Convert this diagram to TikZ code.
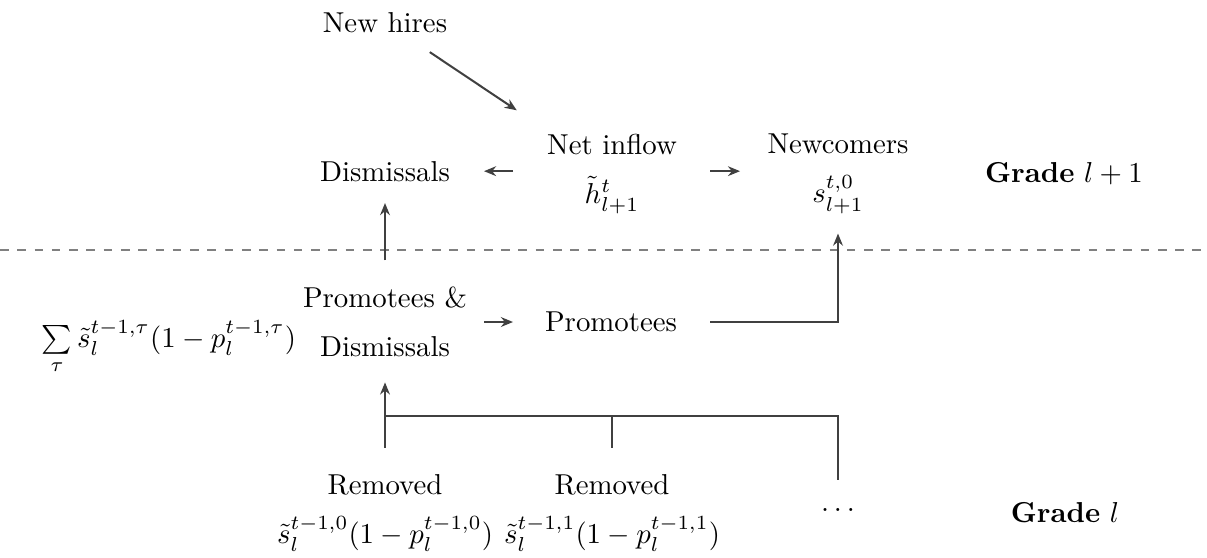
\documentclass[tikz,border=0pt]{standalone}
\usetikzlibrary{arrows.meta}
\tikzset{
  flow/.style={draw=black!75, line width=0.7pt, -{Stealth[length=4.2pt,width=3.4pt]}},
  link/.style={draw=black!75, line width=0.7pt},
  lbl/.style={align=center},
}
\begin{document}
\begin{tikzpicture}[x=0.3472pt, y=-0.3472pt]
\useasboundingbox (0,0) rectangle (1207,557);
\node[anchor=base] (hires) at (385,32) {New hires};
\node[anchor=base] (dism) at (385,181) {Dismissals};
\node[lbl] (inflow) at (612,174) {Net inflow\\[5pt] $\tilde{h}^{t}_{l+1}$};
\node[lbl] (newc) at (838,174) {Newcomers\\[5pt] $s^{t,0}_{l+1}$};
\node[anchor=base] (gradeA) at (1064,182) {\textbf{Grade} $l+1$};
\draw[dashed, gray, line width=0.5pt] (0,250) -- (1207,250);
\node[anchor=base] (sum) at (169,347) {$\sum\limits_{\tau}\tilde{s}^{t-1,\tau}_{l}(1-p^{t-1,\tau}_{l})$};
\node[lbl] (pd) at (385,322) {Promotees \&\\[5pt] Dismissals};
\node (prom) at (611,322) {Promotees};
\node[lbl] (rem0) at (385,513) {Removed\\[5pt] $\tilde{s}^{t-1,0}_{l}(1-p^{t-1,0}_{l})$};
\node[lbl] (rem1) at (612,513) {Removed\\[5pt] $\tilde{s}^{t-1,1}_{l}(1-p^{t-1,1}_{l})$};
\node (more) at (838,510) {$\ldots$};
\node[anchor=base] (gradeB) at (1065,522) {\textbf{Grade} $l$};
\coordinate (bus) at (385,416);
\path
  (hires) edge[flow, shorten <=6pt, shorten >=8.5pt] (inflow)
  (inflow.west |- dism) edge[flow, shorten <=8.3pt, shorten >=8.3pt] (dism.east)
  (inflow.east |- dism) edge[flow, shorten <=8pt, shorten >=6pt] (newc.west |- dism)
  (pd) edge[flow, shorten <=2.4pt, shorten >=7.6pt] (prom)
  (pd) edge[flow, shorten <=5.7pt, shorten >=4pt] (dism)
  (rem0) edge[flow, shorten <=5.6pt, shorten >=5.3pt] (pd);
\draw[flow, shorten <=8pt, shorten >=3.3pt] (prom) -| (newc);
\draw[link, shorten <=5.6pt] (rem1) |- (bus);
\draw[link, shorten <=6.5pt] (more) |- (bus);
\end{tikzpicture}
\end{document}
